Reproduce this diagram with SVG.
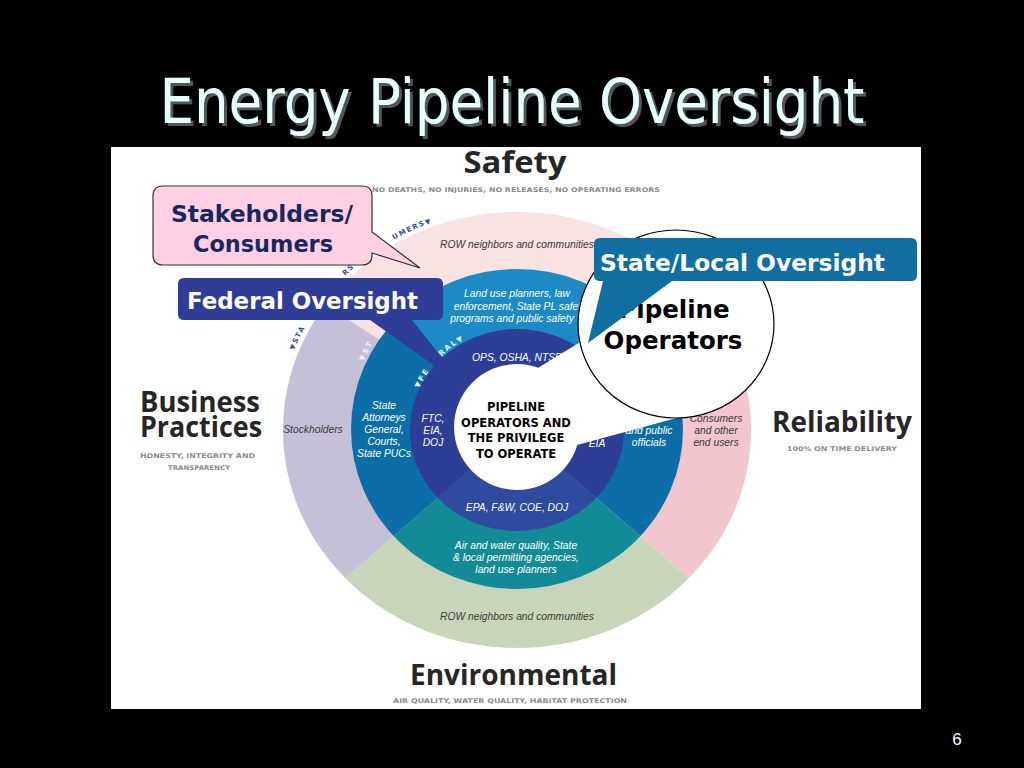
<svg xmlns="http://www.w3.org/2000/svg" width="1024" height="768" viewBox="0 0 1024 768">
<style>
.title{font-family:"DejaVu Sans",sans-serif;font-size:62px}
.head{font-family:"Open Sans","Liberation Sans",sans-serif;font-weight:bold;fill:#262626}
.sub{font-family:"DejaVu Sans",sans-serif;font-weight:bold;font-size:6.4px;fill:#8c8c8c}
.it{font-family:"Liberation Sans",sans-serif;font-style:italic;font-size:10.3px;text-anchor:middle}
.dk{fill:#3a3a3a}
.wt{fill:#ffffff}
.ctr{font-family:"DejaVu Sans",sans-serif;font-weight:bold;font-size:11.5px;text-anchor:middle;fill:#000}
.lbl{font-family:"DejaVu Sans",sans-serif;font-weight:bold;font-size:7px;letter-spacing:1.5px;fill:#3c4b9b}
.lblw{font-family:"DejaVu Sans",sans-serif;font-weight:bold;font-size:7.5px;letter-spacing:1.8px;fill:#eef3fb}
.call{font-family:"DejaVu Sans",sans-serif;font-weight:bold;font-size:23px;text-anchor:middle}
.op{font-family:"DejaVu Sans",sans-serif;font-weight:bold;font-size:24.5px;text-anchor:middle;fill:#000}
</style>
<defs>
<filter id="shadow" x="-5%" y="-20%" width="110%" height="140%">
<feDropShadow dx="3" dy="3" stdDeviation="0.6" flood-color="#555555" flood-opacity="1"/>
</filter>
<clipPath id="cOuter"><ellipse cx="517" cy="430" rx="234" ry="218"/></clipPath>
<clipPath id="cMid"><ellipse cx="517" cy="429" rx="166" ry="160"/></clipPath>
<clipPath id="cIn"><ellipse cx="517" cy="430" rx="107" ry="101"/></clipPath>
<polygon id="sTop" points="517,429 181.5,211.2 517,29 852.5,211.2"/>
<polygon id="sRight" points="517,429 852.5,211.2 917,429 818.9,691.4"/>
<polygon id="sBottom" points="517,429 818.9,691.4 517,829 215.1,691.4"/>
<polygon id="sLeft" points="517,429 215.1,691.4 117,429 181.5,211.2"/>
<polygon id="mTop" points="517,429 210.6,171.9 517,29 823.4,171.9"/>
<polygon id="mRight" points="517,429 823.4,171.9 917,429 818.9,691.4"/>
<polygon id="mLeft" points="517,429 215.1,691.4 117,429 210.6,171.9"/>
<path id="pO1" d="M293.9,350.4 A239,222 0 0 1 363.4,259.9"/>
<path id="pO2" d="M345.1,275.8 A239,222 0 0 1 435.3,221.4"/>
<path id="pO3" d="M393.9,239.7 A239,222 0 0 1 496.2,208.8"/>
<path id="pM1" d="M363.2,361.4 A169,163 0 0 1 420.1,295.5"/>
<path id="pI1" d="M418.9,388.5 A107,104 0 0 1 448.2,350.3"/>
<path id="pI2" d="M441.3,356.5 A107,104 0 0 1 489.3,329.5"/>
</defs>

<rect x="0" y="0" width="1024" height="768" fill="#000"/>

<g id="title">
<text class="title" x="512" y="123" text-anchor="middle" textLength="705" lengthAdjust="spacingAndGlyphs" fill="#e6ffff" filter="url(#shadow)">Energy Pipeline Oversight</text>
</g>

<rect id="panel" x="111" y="147" width="810" height="562" fill="#fff"/>

<g id="ring-outer" clip-path="url(#cOuter)">
<use href="#sTop" fill="#f8e2e2"/>
<use href="#sRight" fill="#f3c5cd"/>
<use href="#sBottom" fill="#c8d5ba"/>
<use href="#sLeft" fill="#c5bfd8"/>
</g>
<g id="ring-middle" clip-path="url(#cMid)">
<use href="#mTop" fill="#1c8ac4"/>
<use href="#mRight" fill="#0c6ea7"/>
<use href="#sBottom" fill="#138b96"/>
<use href="#mLeft" fill="#0c6ea7"/>
</g>
<g id="ring-inner" clip-path="url(#cIn)">
<use href="#sTop" fill="#2d3e97"/>
<use href="#sRight" fill="#2d3e97"/>
<use href="#sBottom" fill="#2e4b9f"/>
<use href="#sLeft" fill="#2d3e97"/>
</g>

<g id="ring-labels">
<text class="lbl"><textPath href="#pO1">▼STA</textPath></text>
<text class="lbl"><textPath href="#pO2">RS &amp;</textPath></text>
<text class="lbl"><textPath href="#pO3">UMERS▼</textPath></text>
<text class="lblw"><textPath href="#pM1">▼ST</textPath></text>
<text class="lblw"><textPath href="#pI1">▼FE</textPath></text>
<text class="lblw"><textPath href="#pI2">RAL▼</textPath></text>
</g>

<g id="outer-texts" class="it dk">
<text x="517" y="248">ROW neighbors and communities</text>
<text x="313" y="433">Stockholders</text>
<text x="716" y="422">Consumers</text>
<text x="716" y="434">and other</text>
<text x="716" y="446">end users</text>
<text x="517" y="620">ROW neighbors and communities</text>
</g>

<g id="middle-texts" class="it wt">
<text x="517" y="297">Land use planners, law</text>
<text x="520" y="310">enforcement, State PL safety</text>
<text x="512" y="322">programs and public safety</text>
<text x="384" y="409">State</text>
<text x="384" y="421">Attorneys</text>
<text x="384" y="433">General,</text>
<text x="384" y="445">Courts,</text>
<text x="384" y="457">State PUCs</text>
<text x="649" y="434">and public</text>
<text x="649" y="446">officials</text>
<text x="516" y="549">Air and water quality, State</text>
<text x="516" y="561">&amp; local permitting agencies,</text>
<text x="516" y="573">land use planners</text>
</g>

<g id="inner-texts" class="it wt">
<text x="517" y="361">OPS, OSHA, NTSB</text>
<text x="433" y="422">FTC,</text>
<text x="433" y="434">EIA,</text>
<text x="433" y="446">DOJ</text>
<text x="597" y="447">EIA</text>
<text x="517" y="511">EPA, F&amp;W, COE, DOJ</text>
</g>

<g id="headings">
<text class="head" x="515" y="173" font-size="31" text-anchor="middle" textLength="103" lengthAdjust="spacingAndGlyphs">Safety</text>
<text class="sub" x="516" y="192" text-anchor="middle" textLength="288" lengthAdjust="spacingAndGlyphs">NO DEATHS, NO INJURIES, NO RELEASES, NO OPERATING ERRORS</text>
<text class="head" x="140" y="412" font-size="28" textLength="120" lengthAdjust="spacingAndGlyphs">Business</text>
<text class="head" x="140" y="437" font-size="28" textLength="122" lengthAdjust="spacingAndGlyphs">Practices</text>
<text class="sub" x="197.5" y="458" text-anchor="middle" textLength="115" lengthAdjust="spacingAndGlyphs">HONESTY, INTEGRITY AND</text>
<text class="sub" x="199" y="470" text-anchor="middle" textLength="62" lengthAdjust="spacingAndGlyphs">TRANSPARENCY</text>
<text class="head" x="772" y="432" font-size="28" textLength="140" lengthAdjust="spacingAndGlyphs">Reliability</text>
<text class="sub" x="842" y="451" text-anchor="middle" textLength="110" lengthAdjust="spacingAndGlyphs">100% ON TIME DELIVERY</text>
<text class="head" x="513.5" y="685" font-size="28" text-anchor="middle" textLength="207" lengthAdjust="spacingAndGlyphs">Environmental</text>
<text class="sub" x="510" y="703" text-anchor="middle" textLength="234" lengthAdjust="spacingAndGlyphs">AIR QUALITY, WATER QUALITY, HABITAT PROTECTION</text>
</g>

<g id="connectors">
<polygon points="505,388 600,330 700,372 684,416 566,448" fill="#fff"/>
</g>

<g id="center-node">
<circle cx="517" cy="427" r="63" fill="#fff"/>
<text class="ctr" x="516" y="411">PIPELINE</text>
<text class="ctr" x="516" y="427">OPERATORS AND</text>
<text class="ctr" x="516" y="442">THE PRIVILEGE</text>
<text class="ctr" x="516" y="458">TO OPERATE</text>
</g>

<g id="pipeline-operators">
<ellipse cx="676" cy="324" rx="98" ry="94" fill="#fff" stroke="#000" stroke-width="1.2"/>
<text class="op" x="674" y="318">Pipeline</text>
<text class="op" x="673" y="349">Operators</text>
</g>

<g id="stakeholders-callout">
<path d="M163,186 H362 Q372,186 372,196 V232 L420,268 L372,253 V255 Q372,265 362,265 H163 Q153,265 153,255 V196 Q153,186 163,186 Z" fill="#ffd0e4" stroke="#333" stroke-width="1.2"/>
<text class="call" x="262" y="222" fill="#17295c" textLength="182" lengthAdjust="spacingAndGlyphs">Stakeholders/</text>
<text class="call" x="263" y="252" fill="#17295c" textLength="140" lengthAdjust="spacingAndGlyphs">Consumers</text>
</g>

<g id="federal-callout">
<path d="M184,278 H437 Q443,278 443,284 V314 Q443,320 437,320 H412 L466,388 L370,320 H184 Q178,320 178,314 V284 Q178,278 184,278 Z" fill="#2e3d96"/>
<text class="call" x="302.5" y="309" fill="#fff" textLength="231" lengthAdjust="spacingAndGlyphs">Federal Oversight</text>
</g>

<g id="state-callout">
<path d="M600,238 H911 Q917,238 917,244 V275 Q917,281 911,281 H672 L588,343 L603,281 H600 Q594,281 594,275 V244 Q594,238 600,238 Z" fill="#106ea0"/>
<text class="call" x="742.5" y="271" fill="#fff" textLength="285" lengthAdjust="spacingAndGlyphs">State/Local Oversight</text>
</g>

<text x="957" y="745" font-family="Liberation Sans, sans-serif" font-size="17" fill="#fff" text-anchor="middle">6</text>
</svg>
